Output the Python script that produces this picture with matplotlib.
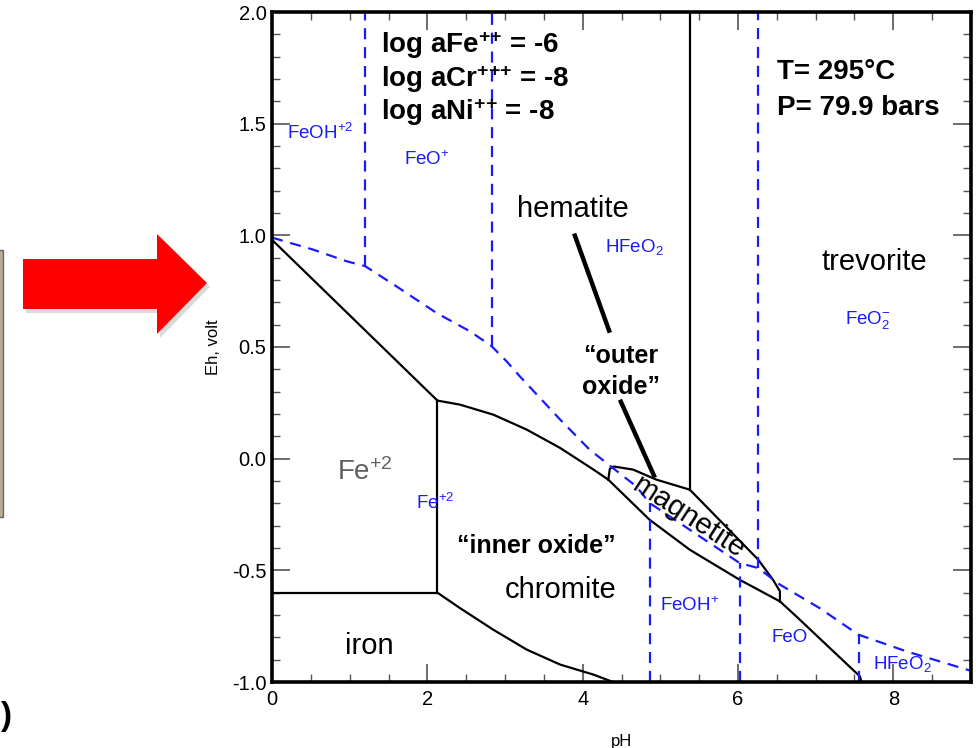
import matplotlib
matplotlib.use("Agg")
import matplotlib.pyplot as plt
from matplotlib.patches import Polygon, Rectangle
from matplotlib.ticker import MultipleLocator

plt.rcParams['font.family'] = ['Liberation Sans', 'DejaVu Sans']
plt.rcParams['mathtext.fontset'] = 'custom'
plt.rcParams['mathtext.rm'] = 'Liberation Sans'
plt.rcParams['mathtext.it'] = 'Liberation Sans'
plt.rcParams['mathtext.bf'] = 'Liberation Sans:bold'

# ---- solid (mineral) boundaries: pH, Eh ----
fe2_upper_pH = [0.0, 2.13]
fe2_upper_Eh = [0.98, 0.26]
fe2_chromite_pH = [2.13, 2.13]
fe2_chromite_Eh = [0.26, -0.60]
iron_fe2_pH = [0.0, 2.13]
iron_fe2_Eh = [-0.60, -0.60]
chromite_top_pH = [2.13, 2.42, 2.85, 3.28, 3.71, 4.14, 4.33, 4.86, 5.38, 6.02, 6.54, 6.75, 7.57, 7.59]
chromite_top_Eh = [0.26, 0.242, 0.197, 0.130, 0.048, -0.049, -0.094, -0.273, -0.408, -0.542, -0.639, -0.706, -0.975, -1.0]
magnetite_top_pH = [4.33, 4.35, 4.40, 4.65, 4.95, 5.38, 6.26, 6.45, 6.54, 6.54]
magnetite_top_Eh = [-0.094, -0.045, -0.035, -0.049, -0.094, -0.139, -0.452, -0.542, -0.594, -0.639]
hem_trev_pH = [5.38, 5.38]
hem_trev_Eh = [-0.139, 2.0]
iron_chromite_pH = [2.13, 2.42, 2.85, 3.28, 3.71, 4.14, 4.39]
iron_chromite_Eh = [-0.60, -0.669, -0.766, -0.855, -0.922, -0.967, -1.0]

# ---- dashed (aqueous Fe species) boundaries ----
aq_top_pH = [0.0, 0.53, 0.96, 1.2, 1.6, 2.12, 2.55, 2.83, 3.02, 3.19, 3.71, 4.09, 4.39, 4.69, 4.86, 6.02, 6.26, 6.54, 7.05, 7.55, 8.17, 9.0]
aq_top_Eh = [0.99, 0.936, 0.884, 0.862, 0.772, 0.652, 0.57, 0.503, 0.436, 0.369, 0.175, 0.04, -0.042, -0.124, -0.198, -0.467, -0.49, -0.564, -0.669, -0.788, -0.863, -0.95]
aq_vert_pH = [1.2, 2.83, 4.87, 6.02, 6.26, 7.56]
aq_vert_Eh_lo = [0.862, 0.503, -1.0, -1.0, -0.49, -1.0]
aq_vert_Eh_hi = [2.0, 2.0, -0.20, -0.467, 2.0, -0.788]

fig = plt.figure(figsize=(9.76, 7.48), dpi=100)
ax = fig.add_axes([272/976, 1-682/748, (971-272)/976, (682-12)/748])
ax.set_xlim(0, 9)
ax.set_ylim(-1.0, 2.0)

blk = dict(color='black', lw=1.6, solid_joinstyle='round')
ax.plot(fe2_upper_pH, fe2_upper_Eh, **blk)
ax.plot(fe2_chromite_pH, fe2_chromite_Eh, **blk)
ax.plot(iron_fe2_pH, iron_fe2_Eh, **blk)
ax.plot(chromite_top_pH, chromite_top_Eh, **blk)
ax.plot(magnetite_top_pH, magnetite_top_Eh, **blk)
ax.plot(hem_trev_pH, hem_trev_Eh, **blk)
ax.plot(iron_chromite_pH, iron_chromite_Eh, **blk)

blue = '#1a1aff'
ax.plot(aq_top_pH, aq_top_Eh, color=blue, lw=1.6, dashes=(5, 3.5))
for x, lo, hi in zip(aq_vert_pH, aq_vert_Eh_lo, aq_vert_Eh_hi):
    ax.plot([x, x], [lo, hi], color=blue, lw=1.6, dashes=(5, 3.5))

# pointer lines
ax.plot([3.89, 4.35], [1.008, 0.564], color='black', lw=3.2, solid_capstyle='butt')
ax.plot([4.48, 4.93], [0.264, -0.085], color='black', lw=3.2, solid_capstyle='butt')

# axes styling
ax.xaxis.set_major_locator(MultipleLocator(2))
ax.xaxis.set_minor_locator(MultipleLocator(0.5))
ax.yaxis.set_major_locator(MultipleLocator(0.5))
ax.yaxis.set_minor_locator(MultipleLocator(0.1))
ax.xaxis.set_major_formatter(matplotlib.ticker.FormatStrFormatter('%d'))
ax.yaxis.set_major_formatter(matplotlib.ticker.FormatStrFormatter('%.1f'))
ax.tick_params(which='both', direction='in', top=True, right=True, labelsize=14.5, color='#555555')
ax.tick_params(which='major', length=13, width=1.2, pad=4)
ax.tick_params(which='minor', length=6, width=1.0)
ax.tick_params(axis='x', which='major', pad=6)
for s in ax.spines.values():
    s.set_linewidth(2.6)
ax.set_xlabel('pH', fontsize=12, labelpad=18)
ax.set_ylabel('Eh, volt', fontsize=12, labelpad=8)

# labels
bfs = 20
sup2 = r'$^{\mathbf{{+}{+}}}$'
sup3 = r'$^{\mathbf{{+}{+}{+}}}$'
ax.text(1.40, 1.85, 'log aFe' + sup2 + ' = -6', fontsize=bfs, fontweight='bold', va='center')
ax.text(1.40, 1.70, 'log aCr' + sup3 + ' = -8', fontsize=bfs, fontweight='bold', va='center')
ax.text(1.40, 1.55, 'log aNi' + sup2 + ' = -8', fontsize=bfs, fontweight='bold', va='center')
ax.text(6.50, 1.73, 'T= 295°C', fontsize=bfs, fontweight='bold', va='center')
ax.text(6.50, 1.57, 'P= 79.9 bars', fontsize=bfs, fontweight='bold', va='center')

bl = dict(color=blue, fontsize=13.5, ha='center', va='center')
ax.text(0.62, 1.46, r'FeOH$^{+2}$', **bl)
ax.text(2.0, 1.34, r'FeO$^{+}$', **bl)
ax.text(4.67, 0.95, r'HFeO$_{2}$', **bl)
ax.text(7.67, 0.62, r'FeO$_{2}^{-}$', **bl)
ax.text(2.1, -0.20, r'Fe$^{+2}$', **bl)
ax.text(5.38, -0.66, r'FeOH$^{+}$', **bl)
ax.text(6.67, -0.80, 'FeO', **bl)
ax.text(8.12, -0.92, r'HFeO$_{2}$', **bl)

rl = dict(color='black', fontsize=21, ha='center', va='center')
ax.text(3.87, 1.12, 'hematite', **rl)
ax.text(7.75, 0.88, 'trevorite', **rl)
ax.text(3.72, -0.59, 'chromite', **rl)
ax.text(1.25, -0.84, 'iron', **rl)
ax.text(5.36, -0.26, 'magnetite', rotation=-33, rotation_mode='anchor', **rl)
ax.text(1.2, -0.06, r'Fe$^{+2}$', color='#606060', fontsize=20, ha='center', va='center')

bb = dict(color='black', fontsize=18, fontweight='bold', ha='center', va='center')
ax.text(4.49, 0.46, '\u201couter', **bb)
ax.text(4.49, 0.32, 'oxide\u201d', **bb)
ax.text(3.40, -0.39, '\u201cinner oxide\u201d', **bb)

# decorations outside the axes (figure pixel coordinates)
W, H = 976.0, 748.0
def fpt(px, py):
    return (px / W, 1 - py / H)
arrow_px = [(23, 259), (157, 259), (157, 234), (207, 283), (157, 334), (157, 309), (23, 309)]
shadow = Polygon([fpt(x + 3, y + 4) for x, y in arrow_px], closed=True, transform=fig.transFigure,
                 facecolor='#999999', edgecolor='none', alpha=0.35)
fig.patches.append(shadow)
arrow = Polygon([fpt(x, y) for x, y in arrow_px], closed=True, transform=fig.transFigure,
                facecolor='#ff0000', edgecolor='none')
fig.patches.append(arrow)
x0, y0 = fpt(-3, 517)
x1, y1 = fpt(3, 250)
rect = Rectangle((x0, y0), x1 - x0, y1 - y0, transform=fig.transFigure,
                 facecolor='#b9aa92', edgecolor='#666666', lw=1.0)
fig.patches.append(rect)
fig.text(6 / W, 1 - 716 / H, ')', fontsize=24, fontweight='bold', ha='center', va='center')

fig.savefig('out.png', dpi=100)
